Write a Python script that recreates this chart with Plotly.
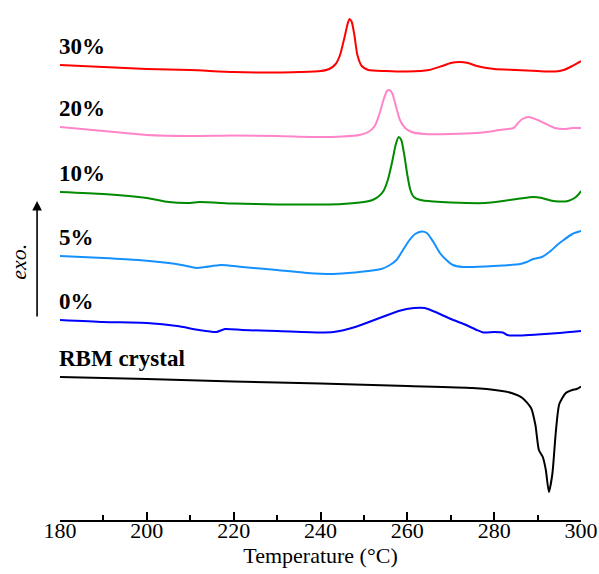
import plotly.graph_objects as go

# DSC curves, heat flow (a.u., axis drawn reversed so exo is up)
t30 = [180,190,200,210,220,230,235,240,242,243.5,244.5,245.5,246.3,246.7,247.2,247.8,248.5,249.5,251,255,260,265,268,270,272,274,276,280,285,290,294,296,298,300]
v30 = [65,67,69,70,72,72.5,72,71,69,64,55,38,23,19,22,35,55,66,70,71,71.5,70,66,63,62,63,66,69,70,71,71.5,70,66,61]

t20 = [180,185,190,195,200,210,220,230,240,245,249,251,252.5,253.5,254.5,255.3,255.8,256.5,257.3,258.3,259.5,261,264,270,276,280,282,284.5,285.5,286.5,288,290,292,294,296,298,300]
v20 = [127,129,131,133,135,136,135.5,136,137,136.5,135,132,126,115,100,91,90,93,105,120,128,132,134,134,133,131,129.5,128,123,119,117,120,124,128,129,128,128]

t10 = [180,190,200,205,210,212,220,230,240,245,250,252,253.5,254.5,255.5,256.5,257.3,258,258.6,259.3,260,260.7,261.5,263,266,270,278,282,286,289,291,293,295,297,298.5,299.3,300]
v10 = [192,194,198,202,203,202,203.5,204.5,204.5,204,202,200,196,191,180,162,145,137,140,155,175,190,197,200,201.5,202.5,203,201,198.5,197,198,200.5,201.5,201,198,195,191]

t5 = [180,190,198,205,208,211.5,213.5,217,222,230,237,243,248,251,254,256,257.5,259,260.5,261.8,263.3,264.5,266,267.5,269,270.5,272.8,278,282,286,287.5,289,291,293,294.5,296,298,300]
v5 = [256,258,260,263,265,268,267,265,267,270,273,274,272.5,271,269,265,260,250,240,234,231.5,233,242,253,260,265,267,266.5,265.5,264,262,259,257,251,245,240,234,231]

t0 = [180,190,200,207,212,216,218,222,230,240,243,248,253,258,261.5,264,267,270,273,276,277.5,280,282,283,286,290,295,300]
v0 = [320,322,323,326,330,332,329,330,331,332.5,332,327,319,311,308,308,313,319,324,330,332.5,332,332.5,335,335.5,334.5,333,331]

tc = [180,200,220,240,260,275,281,284,286.5,288.5,289.5,290.3,291.2,291.9,292.6,293.4,294.2,295,296.5,298,299,300]
vc = [377,379,381.5,383.5,386,388,390.5,393,398,408,425,450,457,470,492,474,432,404,393,390,389,386.5]

series = [
    ("30%", t30, v30, "#FF0000"),
    ("20%", t20, v20, "#FF85C8"),
    ("10%", t10, v10, "#008A00"),
    ("5%", t5, v5, "#1591FF"),
    ("0%", t0, v0, "#0000FF"),
    ("RBM crystal", tc, vc, "#000000"),
]

fig = go.Figure()
font = "Liberation Serif, Times New Roman, serif"
for name, t, v, c in series:
    fig.add_trace(go.Scatter(x=t, y=v, mode="lines", line=dict(color=c, width=2, shape="spline", smoothing=0.6),
                             name=name, showlegend=False))
    fig.add_annotation(x=180, y=v[0] - 4, xref="x", yref="y", text="<b>%s</b>" % name, showarrow=False,
                       xanchor="left", yanchor="bottom", xshift=-3,
                       font=dict(family=font, size=23, color="black"))

fig.add_annotation(x=-0.044, y=201, xref="paper", yref="y", ax=0, ay=117, axref="pixel", ayref="pixel",
                   text="", showarrow=True, arrowhead=2, arrowsize=1.2, arrowwidth=1.6, arrowcolor="black")
fig.add_annotation(x=-0.081, y=262, xref="paper", yref="y", text="<i>exo.</i>", showarrow=False, textangle=-90,
                   xanchor="center", yanchor="middle",
                   font=dict(family=font, size=22, color="black"))

fig.update_layout(
    width=599, height=574,
    margin=dict(l=60, r=18, t=10, b=54),
    paper_bgcolor="white", plot_bgcolor="white",
    xaxis=dict(range=[180, 300], dtick=20, tick0=180, ticks="inside", ticklen=8, tickwidth=1.5,
               tickcolor="black", showline=True, linecolor="black", linewidth=1.5, showgrid=False,
               zeroline=False, automargin=False, showticklabels=False,
               minor=dict(dtick=10, ticks="inside", ticklen=5, tickwidth=1.5, tickcolor="black", showgrid=False)),
    xaxis2=dict(range=[180, 300], dtick=20, tick0=180, ticks="", overlaying="x", anchor="free", position=0.0098,
                side="bottom", showline=False, showgrid=False, zeroline=False, automargin=False,
                tickfont=dict(family=font, size=22, color="black"),
                title=dict(text="Temperature (°C)", font=dict(family=font, size=22, color="black"), standoff=0)),
    yaxis=dict(range=[520, 10], visible=False, showgrid=False, zeroline=False, automargin=False),
)
fig.add_trace(go.Scatter(x=[180, 300], y=[None, None], xaxis="x2", mode="lines", showlegend=False, hoverinfo="skip"))

fig.write_html("out.html")
